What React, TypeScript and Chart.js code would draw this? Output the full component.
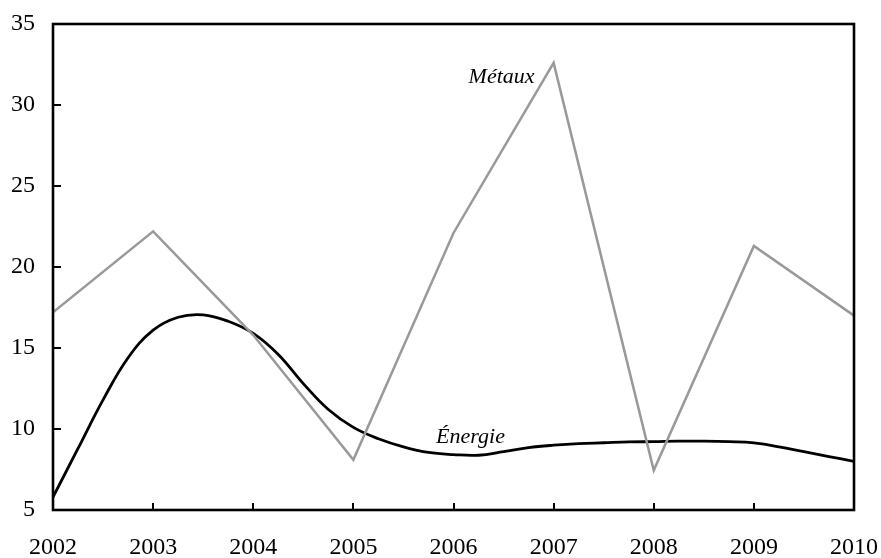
import React, { useEffect, useRef } from "react";
import { Chart, registerables } from "chart.js";

Chart.register(...registerables);

const years = [2002, 2003, 2004, 2005, 2006, 2007, 2008, 2009, 2010];
const metaux = [17.2, 22.2, 15.8, 8.1, 22.1, 32.6, 7.45, 21.3, 17.0];

const energieDates = [
  2002.0, 2002.25, 2002.5, 2002.75,
  2003.0, 2003.25, 2003.5, 2003.75,
  2004.0, 2004.25, 2004.5, 2004.75,
  2005.0, 2005.25, 2005.5, 2005.75,
  2006.0, 2006.25, 2006.5, 2006.75,
  2007.0, 2007.25, 2007.5, 2007.75,
  2008.0, 2008.25, 2008.5, 2008.75,
  2009.0, 2009.25, 2009.5, 2009.75,
  2010.0,
];
const energie = [
  5.8, 8.8, 11.8, 14.4,
  16.1, 16.9, 17.05, 16.65,
  15.9, 14.6, 12.8, 11.2,
  10.1, 9.4, 8.9, 8.55,
  8.42, 8.38, 8.6, 8.85,
  9.0, 9.1, 9.15, 9.2,
  9.22, 9.25, 9.25, 9.22,
  9.15, 8.9, 8.6, 8.3,
  8.0,
];

const yTickValues = [5, 10, 15, 20, 25, 30, 35];
const seriesNames = ["Métaux", "Énergie"];
// label anchor positions in data units: [x, y]
const labelAnchors = [
  [2006.48, 31.72],
  [2006.17, 9.48],
];

const FONT = '"Liberation Serif", "Times New Roman", serif';

const framePlugin = {
  id: "frame",
  afterDraw(chart: any) {
    const { ctx, chartArea: a, scales } = chart;
    const x = scales.x;
    const y = scales.y;
    ctx.save();
    ctx.strokeStyle = "#000";
    ctx.lineWidth = 2.6;
    ctx.strokeRect(a.left, a.top, a.right - a.left, a.bottom - a.top);
    ctx.lineWidth = 2;
    ctx.beginPath();
    yTickValues.forEach((v) => {
      if (v > y.min && v < y.max) {
        const py = Math.round(y.getPixelForValue(v));
        ctx.moveTo(a.left, py);
        ctx.lineTo(a.left + 8, py);
      }
    });
    years.forEach((v) => {
      if (v > x.min && v < x.max) {
        const px = Math.round(x.getPixelForValue(v));
        ctx.moveTo(px, a.bottom);
        ctx.lineTo(px, a.bottom - 7);
      }
    });
    ctx.stroke();
    ctx.fillStyle = "#000";
    ctx.font = `italic 22px ${FONT}`;
    ctx.textAlign = "center";
    ctx.textBaseline = "middle";
    seriesNames.forEach((name, i) => {
      const [vx, vy] = labelAnchors[i];
      ctx.fillText(name, x.getPixelForValue(vx), y.getPixelForValue(vy));
    });
    ctx.restore();
  },
};

export default function App() {
  const ref = useRef<HTMLCanvasElement | null>(null);
  useEffect(() => {
    if (!ref.current) return;
    const chart = new Chart(ref.current, {
      type: "line",
      data: {
        datasets: [
          {
            label: seriesNames[0],
            data: years.map((yr, i) => ({ x: yr, y: metaux[i] })),
            borderColor: "#999999",
            borderWidth: 2.5,
            pointRadius: 0,
            tension: 0,
            fill: false,
          },
          {
            label: seriesNames[1],
            data: energieDates.map((d, i) => ({ x: d, y: energie[i] })),
            borderColor: "#000000",
            borderWidth: 2.8,
            pointRadius: 0,
            tension: 0.4,
            fill: false,
          },
        ],
      },
      options: {
        animation: false,
        responsive: true,
        maintainAspectRatio: false,
        layout: { padding: { top: 24, right: 27, left: 0, bottom: 0 } },
        plugins: { legend: { display: false }, tooltip: { enabled: false } },
        scales: {
          x: {
            type: "linear",
            min: 2002,
            max: 2010,
            grid: { display: false, drawTicks: true, tickLength: 23 },
            border: { display: false },
            ticks: {
              stepSize: 1,
              color: "#000",
              font: { family: FONT, size: 24 },
              padding: 0,
              maxRotation: 0,
              callback: (v: any) => String(v),
            },
            afterFit: (s: any) => {
              s.height = 48;
            },
          },
          y: {
            min: 5,
            max: 35,
            grid: { display: false, drawTicks: true, tickLength: 18 },
            border: { display: false },
            ticks: {
              stepSize: 5,
              color: "#000",
              font: { family: FONT, size: 24 },
              padding: 0,
            },
            afterFit: (s: any) => {
              s.width = 53;
            },
          },
        },
      },
      plugins: [framePlugin],
    } as any);
    return () => chart.destroy();
  }, []);
  return (
    <div style={{ position: "fixed", left: 0, top: 0, width: 881, height: 558, background: "#fff" }}>
      <canvas ref={ref} />
    </div>
  );
}
